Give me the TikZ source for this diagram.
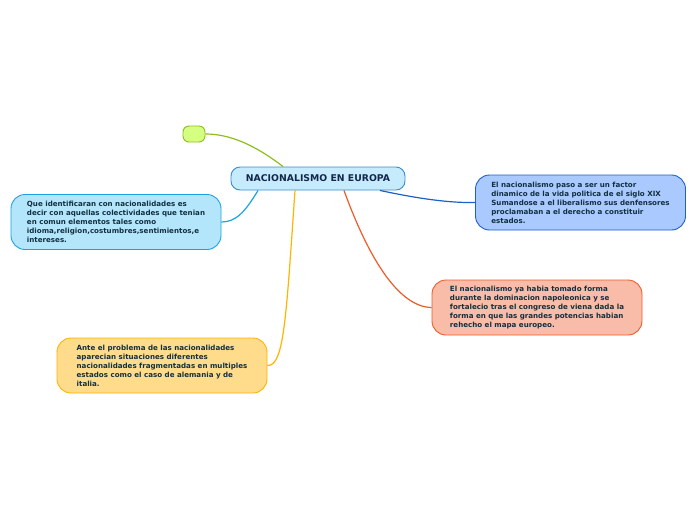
\documentclass[tikz,border=0pt]{standalone}
\usepackage{fontspec}
\setmainfont{DejaVu Sans}
\usetikzlibrary{calc}
\definecolor{txt}{HTML}{123040}
\definecolor{ctxt}{HTML}{14264A}
\definecolor{cfill}{HTML}{C6EBFC}
\definecolor{cdraw}{HTML}{3A8DCB}
\definecolor{gfill}{HTML}{D5FF80}
\definecolor{gdraw}{HTML}{8CBE1E}
\definecolor{lbfill}{HTML}{B4E6FB}
\definecolor{lbdraw}{HTML}{1CA2E2}
\definecolor{rbfill}{HTML}{A9C9FF}
\definecolor{rbdraw}{HTML}{1E5FC8}
\definecolor{sfill}{HTML}{F8BCA9}
\definecolor{sdraw}{HTML}{F05A28}
\definecolor{yfill}{HTML}{FFDC8C}
\definecolor{ydraw}{HTML}{FFB400}
\tikzset{
  topic/.style={draw, line width=0.9pt, rounded corners=14pt, minimum width=210pt, minimum height=55pt,
    align=left, inner sep=0pt, font=\fontsize{7.1}{9}\selectfont\bfseries, text=txt},
  conn/.style={line width=1.2pt}
}
\begin{document}
\begin{tikzpicture}[x=1pt,y=-1pt]
\useasboundingbox (0,0) rectangle (696,520);
\node[draw=cdraw, fill=cfill, line width=0.9pt, rounded corners=9pt, minimum width=174pt, minimum height=23pt,
  inner sep=0pt, font=\fontsize{9.3}{10}\selectfont\bfseries, text=ctxt] (c) at (318,178.5) {NACIONALISMO EN EUROPA};
\node[draw=gdraw, fill=gfill, line width=0.9pt, rounded corners=6pt, minimum width=22pt, minimum height=16pt, inner sep=0pt] (g) at (194,134) {};
\node[topic, draw=lbdraw, fill=lbfill] (lb) at (116,222) {Que identificaran con nacionalidades es\\ decir con aquellas colectividades que tenian\\ en comun elementos tales como\\ idioma,religion,costumbres,sentimientos,e\\ intereses.};
\node[topic, draw=rbdraw, fill=rbfill] (rb) at (580.5,202.5) {El nacionalismo paso a ser un factor\\ dinamico de la vida politica de el siglo XIX\\ Sumandose a el liberalismo sus denfensores\\ proclamaban a el derecho a constituir\\ estados.};
\node[topic, draw=sdraw, fill=sfill] (s) at (537,307.5) {El nacionalismo ya habia tomado forma\\ durante la dominacion napoleonica y se\\ fortalecio tras el congreso de viena dada la\\ forma en que las grandes potencias habian\\ rehecho el mapa europeo.};
\node[topic, draw=ydraw, fill=yfill] (y) at (162,365.5) {Ante el problema de las nacionalidades\\ aparecian situaciones diferentes\\ nacionalidades fragmentadas en multiples\\ estados como el caso de alemania y de\\ italia.};
\draw[conn, draw=gdraw] ([xshift=-35pt]c.north) .. controls (255,145) and (230,134) .. (g.east);
\draw[conn, draw=lbdraw] ([xshift=-60pt]c.south) .. controls (245,212) and (236,222) .. (lb.east);
\draw[conn, draw=rbdraw] ([xshift=62pt]c.south) .. controls (420,199) and (450,203) .. (rb.west);
\draw[conn, draw=sdraw] ([xshift=26pt]c.south) .. controls (370,262) and (400,307) .. (s.west);
\draw[conn, draw=ydraw] ([xshift=-23pt]c.south) .. controls (286,320) and (284,366) .. (y.east);
\end{tikzpicture}
\end{document}
